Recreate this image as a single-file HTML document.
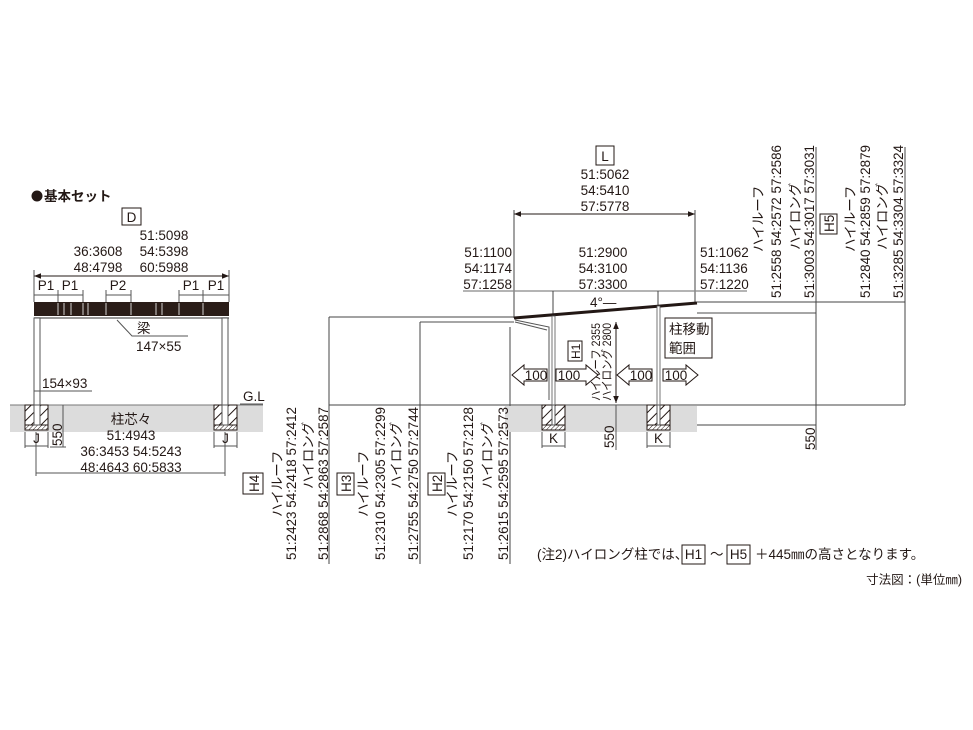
<!DOCTYPE html>
<html><head><meta charset="utf-8"><style>
html,body{margin:0;padding:0;background:#fff;}
svg{display:block;}
text{font-family:"Liberation Sans","Noto Sans CJK JP",sans-serif;fill:#231815;font-size:13.5px;}
.c{text-anchor:middle}.e{text-anchor:end}
</style></head><body>
<svg width="973" height="730" viewBox="0 0 973 730" xmlns="http://www.w3.org/2000/svg">
<defs>
<pattern id="h" width="7" height="7" patternUnits="userSpaceOnUse" patternTransform="rotate(45)">
<rect width="7" height="7" fill="#fff"/><line x1="0" y1="0" x2="0" y2="7" stroke="#231815" stroke-width="2"/></pattern>
<pattern id="h2" width="3" height="3" patternUnits="userSpaceOnUse" patternTransform="rotate(45)">
<rect width="3" height="3" fill="#fff"/><line x1="0" y1="0" x2="0" y2="3" stroke="#231815" stroke-width="1"/></pattern>
<marker id="a" viewBox="0 0 10 10" refX="10" refY="5" markerWidth="7" markerHeight="7" orient="auto-start-reverse"><path d="M0,1 L10,5 L0,9 z" fill="#231815"/></marker>
</defs>

<!-- LEFT FIGURE -->
<circle cx="37" cy="196" r="5.5" fill="#231815"/>
<text x="44" y="201" style="font-size:13.5px;font-weight:bold">基本セット</text>
<rect x="122" y="208" width="19" height="17" fill="none" stroke="#231815"/>
<text x="131.5" y="222" class="c">D</text>
<text x="164" y="240" class="c">51:5098</text>
<text x="98" y="256" class="c">36:3608</text><text x="164" y="256" class="c">54:5398</text>
<text x="98" y="272" class="c">48:4798</text><text x="164" y="272" class="c">60:5988</text>
<line x1="34" y1="276" x2="229" y2="276" stroke="#231815" marker-start="url(#a)" marker-end="url(#a)"/>
<line x1="34" y1="270" x2="34" y2="302" stroke="#555"/><line x1="229" y1="270" x2="229" y2="302" stroke="#555"/>
<g stroke="#555">
<line x1="34" y1="295" x2="83" y2="295"/><line x1="106" y1="295" x2="131" y2="295"/><line x1="179" y1="295" x2="229" y2="295"/>
<line x1="58" y1="290" x2="58" y2="302"/><line x1="83" y1="290" x2="83" y2="302"/><line x1="106" y1="290" x2="106" y2="302"/><line x1="131" y1="290" x2="131" y2="302"/><line x1="179" y1="290" x2="179" y2="302"/><line x1="203" y1="290" x2="203" y2="302"/>
</g>
<text x="46" y="290" class="c">P1</text><text x="70" y="290" class="c">P1</text><text x="118" y="290" class="c">P2</text><text x="191" y="290" class="c">P1</text><text x="216" y="290" class="c">P1</text>
<rect x="34" y="302" width="195" height="14" fill="#2a1d18"/>
<g stroke="#fff" stroke-width="0.8">
<line x1="58" y1="303" x2="58" y2="315"/><line x1="64" y1="303" x2="64" y2="315"/><line x1="71" y1="303" x2="71" y2="315"/><line x1="83" y1="303" x2="83" y2="315"/><line x1="88" y1="303" x2="88" y2="315"/><line x1="106" y1="303" x2="106" y2="315"/><line x1="131" y1="303" x2="131" y2="315"/><line x1="156" y1="303" x2="156" y2="315"/><line x1="162" y1="303" x2="162" y2="315"/><line x1="179" y1="303" x2="179" y2="315"/><line x1="203" y1="303" x2="203" y2="315"/>
</g>
<line x1="34" y1="318" x2="229" y2="318" stroke="#777" stroke-width="1.5"/>
<rect x="34" y="318" width="6" height="87" fill="#fff" stroke="#555"/>
<rect x="222" y="318" width="6" height="87" fill="#fff" stroke="#555"/>
<polyline points="117,320 132,336 188,336" fill="none" stroke="#555"/>
<text x="137" y="333">梁</text><text x="136" y="351">147×55</text>
<text x="42" y="388">154×93</text><line x1="34" y1="391" x2="92" y2="391" stroke="#555"/>
<rect x="10" y="405" width="253" height="27" fill="#dcdcdc"/>
<text x="243" y="401">G.L</text><line x1="240" y1="404" x2="263" y2="404" stroke="#555"/>
<line x1="10" y1="405" x2="263" y2="405" stroke="#777"/>
<rect x="25" y="405" width="23" height="20" fill="url(#h)" stroke="#231815"/>
<rect x="25" y="425" width="23" height="5" fill="url(#h2)" stroke="#231815"/>
<rect x="34" y="405" width="6" height="20" fill="#fff" stroke="#555"/>
<rect x="214" y="405" width="23" height="20" fill="url(#h)" stroke="#231815"/>
<rect x="214" y="425" width="23" height="5" fill="url(#h2)" stroke="#231815"/>
<rect x="222" y="405" width="6" height="20" fill="#fff" stroke="#555"/>
<text x="131" y="424" class="c">柱芯々</text>
<text x="131" y="440" class="c">51:4943</text>
<text x="131" y="456" class="c">36:3453 54:5243</text>
<text x="131" y="472" class="c">48:4643 60:5833</text>
<g stroke="#555">
<line x1="25" y1="432" x2="25" y2="448"/><line x1="48" y1="432" x2="48" y2="448"/><line x1="25" y1="446" x2="48" y2="446"/>
<line x1="214" y1="432" x2="214" y2="448"/><line x1="237" y1="432" x2="237" y2="448"/><line x1="214" y1="446" x2="237" y2="446"/>
<line x1="63" y1="405" x2="63" y2="447"/><line x1="50" y1="447" x2="66" y2="447"/>
<line x1="36" y1="432" x2="36" y2="476"/><line x1="225" y1="432" x2="225" y2="476"/><line x1="36" y1="473" x2="225" y2="473"/>
</g>
<text x="36.5" y="443" class="c">J</text><text x="225.5" y="443" class="c">J</text>
<text transform="translate(62,446) rotate(-90)">550</text>

<!-- HEIGHT LINES -->
<g stroke="#444">
<line x1="329" y1="317" x2="514" y2="317"/>
<line x1="420" y1="322" x2="514" y2="322" stroke="#888" stroke-width="1.5"/>
<line x1="329" y1="317" x2="329" y2="564"/>
<line x1="420" y1="322" x2="420" y2="564"/>
<line x1="510" y1="327" x2="510" y2="564"/>
<line x1="329" y1="405" x2="905" y2="405"/>
<line x1="697" y1="302" x2="905" y2="302"/>
<line x1="697" y1="313" x2="816" y2="313" stroke="#888" stroke-width="1.5"/>
<line x1="816" y1="147" x2="816" y2="450"/>
<line x1="905" y1="147" x2="905" y2="405"/>
<line x1="697" y1="425" x2="816" y2="425"/>
</g>

<!-- RIGHT FIGURE -->
<rect x="596" y="146" width="18" height="19" fill="none" stroke="#231815"/>
<text x="605" y="161" class="c">L</text>
<text x="605" y="179" class="c">51:5062</text><text x="605" y="195" class="c">54:5410</text><text x="605" y="211" class="c">57:5778</text>
<line x1="514" y1="214" x2="695" y2="214" stroke="#231815" marker-start="url(#a)" marker-end="url(#a)"/>
<line x1="514" y1="210" x2="514" y2="318" stroke="#444"/><line x1="695" y1="210" x2="695" y2="302" stroke="#444"/>
<text x="512" y="257" class="e">51:1100</text><text x="512" y="273" class="e">54:1174</text><text x="512" y="289" class="e">57:1258</text>
<text x="603" y="257" class="c">51:2900</text><text x="603" y="273" class="c">54:3100</text><text x="603" y="289" class="c">57:3300</text>
<text x="700" y="257">51:1062</text><text x="700" y="273">54:1136</text><text x="700" y="289">57:1220</text>
<line x1="463" y1="291" x2="747" y2="291" stroke="#888" stroke-width="1.2"/>
<line x1="553" y1="291" x2="553" y2="315" stroke="#444"/><line x1="658" y1="291" x2="658" y2="306" stroke="#444"/>
<text x="590" y="307">4°—</text>
<line x1="514" y1="318" x2="697" y2="303" stroke="#231815" stroke-width="3"/>
<polyline points="515,320 549,327 549,400" fill="none" stroke="#555"/>
<line x1="515" y1="322" x2="547" y2="330" stroke="#555"/>
<rect x="552" y="316" width="3" height="89" fill="#fff" stroke="#555" stroke-width="0.8"/>
<rect x="657" y="306" width="3" height="99" fill="#fff" stroke="#555" stroke-width="0.8"/>
<rect x="665" y="318" width="47" height="40" fill="#fff" stroke="#231815"/>
<text x="669" y="334">柱移動</text><text x="669" y="353">範囲</text>
<rect x="568" y="341" width="14" height="20" fill="#fff" stroke="#231815"/>
<text transform="translate(580,359) rotate(-90)" style="font-size:12px">H1</text>
<text transform="translate(600,401) rotate(-90)" style="font-size:12px" textLength="78" lengthAdjust="spacingAndGlyphs">ハイルーフ 2355</text>
<text transform="translate(611,401) rotate(-90)" style="font-size:12px" textLength="78" lengthAdjust="spacingAndGlyphs">ハイロング 2800</text>
<line x1="616" y1="322" x2="616" y2="403" stroke="#231815" marker-start="url(#a)" marker-end="url(#a)"/>
<g fill="#fff" stroke="#231815">
<polygon points="512,375 524,365 524,369 547,369 547,381 524,381 524,385"/>
<polygon points="598,375 586,365 586,369 556,369 556,381 586,381 586,385"/>
<polygon points="617,375 629,365 629,369 652,369 652,381 629,381 629,385"/>
<polygon points="698,375 686,365 686,369 663,369 663,381 686,381 686,385"/>
</g>
<text x="536" y="380" class="c">100</text><text x="569" y="380" class="c">100</text>
<text x="641" y="380" class="c">100</text><text x="676" y="380" class="c">100</text>
<rect x="505" y="406" width="192" height="26" fill="#dcdcdc"/>
<line x1="505" y1="405" x2="697" y2="405" stroke="#444"/>
<rect x="542" y="405" width="23" height="20" fill="url(#h)" stroke="#231815"/>
<rect x="542" y="425" width="23" height="5" fill="url(#h2)" stroke="#231815"/>
<rect x="552" y="405" width="3" height="20" fill="#fff" stroke="#555"/>
<rect x="647" y="405" width="23" height="20" fill="url(#h)" stroke="#231815"/>
<rect x="647" y="425" width="23" height="5" fill="url(#h2)" stroke="#231815"/>
<rect x="657" y="405" width="3" height="20" fill="#fff" stroke="#555"/>
<g stroke="#555">
<line x1="542" y1="432" x2="542" y2="448"/><line x1="565" y1="432" x2="565" y2="448"/><line x1="542" y1="446" x2="565" y2="446"/>
<line x1="647" y1="432" x2="647" y2="448"/><line x1="670" y1="432" x2="670" y2="448"/><line x1="647" y1="446" x2="670" y2="446"/>
<line x1="616" y1="405" x2="616" y2="450"/>
</g>
<text x="553.5" y="443" class="c">K</text><text x="658.5" y="443" class="c">K</text>
<text transform="translate(614,448) rotate(-90)">550</text>
<text transform="translate(815,450) rotate(-90)">550</text>

<!-- H columns bottom -->
<g style="font-size:13.5px">
<rect x="243" y="473" width="20" height="21" fill="none" stroke="#231815"/>
<text transform="translate(259,492) rotate(-90)">H4</text>
<text transform="translate(282,517) rotate(-90)">ハイルーフ</text>
<text transform="translate(296,560) rotate(-90)" textLength="153" lengthAdjust="spacingAndGlyphs">51:2423 54:2418 57:2412</text>
<text transform="translate(313,489) rotate(-90)">ハイロング</text>
<text transform="translate(328,560) rotate(-90)" textLength="153" lengthAdjust="spacingAndGlyphs">51:2868 54:2863 57:2587</text>
<rect x="337" y="473" width="17" height="22" fill="none" stroke="#231815"/>
<text transform="translate(351,492) rotate(-90)">H3</text>
<text transform="translate(368,517) rotate(-90)">ハイルーフ</text>
<text transform="translate(385,560) rotate(-90)" textLength="153" lengthAdjust="spacingAndGlyphs">51:2310 54:2305 57:2299</text>
<text transform="translate(401,489) rotate(-90)">ハイロング</text>
<text transform="translate(418,560) rotate(-90)" textLength="153" lengthAdjust="spacingAndGlyphs">51:2755 54:2750 57:2744</text>
<rect x="428" y="473" width="17" height="22" fill="none" stroke="#231815"/>
<text transform="translate(442,492) rotate(-90)">H2</text>
<text transform="translate(457,517) rotate(-90)">ハイルーフ</text>
<text transform="translate(473,560) rotate(-90)" textLength="153" lengthAdjust="spacingAndGlyphs">51:2170 54:2150 57:2128</text>
<text transform="translate(492,489) rotate(-90)">ハイロング</text>
<text transform="translate(508,560) rotate(-90)" textLength="153" lengthAdjust="spacingAndGlyphs">51:2615 54:2595 57:2573</text>
</g>

<!-- H columns top right -->
<g>
<text transform="translate(763,252) rotate(-90)">ハイルーフ</text>
<text transform="translate(781,298) rotate(-90)" textLength="153" lengthAdjust="spacingAndGlyphs">51:2558 54:2572 57:2586</text>
<text transform="translate(800,250) rotate(-90)">ハイロング</text>
<text transform="translate(814,298) rotate(-90)" textLength="153" lengthAdjust="spacingAndGlyphs">51:3003 54:3017 57:3031</text>
<rect x="820" y="214" width="17" height="20" fill="none" stroke="#231815"/>
<text transform="translate(834,232) rotate(-90)">H5</text>
<text transform="translate(855,252) rotate(-90)">ハイルーフ</text>
<text transform="translate(870,298) rotate(-90)" textLength="153" lengthAdjust="spacingAndGlyphs">51:2840 54:2859 57:2879</text>
<text transform="translate(887,250) rotate(-90)">ハイロング</text>
<text transform="translate(903,298) rotate(-90)" textLength="153" lengthAdjust="spacingAndGlyphs">51:3285 54:3304 57:3324</text>
</g>

<!-- notes -->
<text x="537" y="559">(注2)ハイロング柱では、</text>
<rect x="682" y="545" width="23" height="19" fill="none" stroke="#231815"/>
<text x="693.5" y="559" class="c">H1</text>
<text x="710" y="559">～</text>
<rect x="727" y="545" width="23" height="19" fill="none" stroke="#231815"/>
<text x="738.5" y="559" class="c">H5</text>
<text x="755" y="559">＋445㎜の高さとなります。</text>
<text x="962" y="584" class="e" style="font-size:12.5px">寸法図：(単位㎜)</text>
</svg>
</body></html>
